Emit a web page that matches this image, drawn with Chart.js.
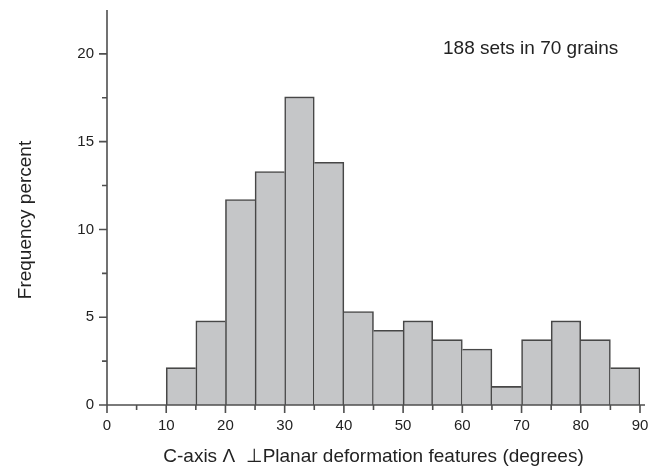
<!DOCTYPE html>
<html>
<head>
<meta charset="utf-8">
<script src="https://cdn.jsdelivr.net/npm/chart.js@4.4.0/dist/chart.umd.min.js"></script>
<style>
  html, body { margin: 0; padding: 0; background: #ffffff; }
  #wrap { position: relative; width: 658px; height: 467px; }
</style>
</head>
<body>
<div id="wrap"><canvas id="c" width="658" height="467"></canvas></div>
<script>
// ---- data ----
const BIN_STARTS = [10, 15, 20, 25, 30, 35, 40, 45, 50, 55, 60, 65, 70, 75, 80, 85];
const BIN_WIDTH = 5;
const FREQ_PERCENT = [2.13, 4.79, 11.70, 13.30, 17.55, 13.83, 5.32, 4.26, 4.79, 3.72, 3.19, 1.06, 3.72, 4.79, 3.72, 2.13];
const X_TICKS = [0, 10, 20, 30, 40, 50, 60, 70, 80, 90];
const X_MINOR = [5, 15, 25, 35, 45, 55, 65, 75, 85];
const Y_TICKS = [0, 5, 10, 15, 20];
const Y_MINOR = [2.5, 7.5, 12.5, 17.5];
const X_TITLE = 'C-axis \u039B  \u22A5Planar deformation features (degrees)';
const Y_TITLE = 'Frequency percent';
const NOTE = '188 sets in 70 grains';

const AXIS_COLOR = '#4f4f4f';
const TEXT_COLOR = '#222222';
const FONT = '"Liberation Sans", Arial, Helvetica, sans-serif';

const points = BIN_STARTS.map((s, i) => ({ x: s + BIN_WIDTH / 2, y: FREQ_PERCENT[i] }));

function sideWidths(ctx) {
  const i = ctx.dataIndex;
  const h = FREQ_PERCENT[i];
  const prev = i > 0 ? FREQ_PERCENT[i - 1] : -1;
  const next = i < FREQ_PERCENT.length - 1 ? FREQ_PERCENT[i + 1] : -1;
  const w = 1.6;
  return {
    top: w,
    bottom: 0,
    left: h >= prev ? w : 0,
    right: h > next ? w : 0
  };
}

const decor = {
  id: 'decor',
  afterDatasetsDraw(chart) {
    const { ctx, scales } = chart;
    const xs = scales.x, ys = scales.y;
    const x0 = xs.getPixelForValue(0);
    const xEnd = xs.getPixelForValue(90);
    const y0 = ys.getPixelForValue(0);
    const yTop = ys.getPixelForValue(22.5);
    ctx.save();
    ctx.strokeStyle = AXIS_COLOR;
    ctx.lineWidth = 1.6;
    ctx.beginPath();
    ctx.moveTo(x0, yTop);
    ctx.lineTo(x0, y0);
    ctx.moveTo(x0, y0);
    ctx.lineTo(xEnd + 5, y0);
    X_TICKS.forEach(v => { const p = xs.getPixelForValue(v); ctx.moveTo(p, y0); ctx.lineTo(p, y0 + 8); });
    X_MINOR.forEach(v => { const p = xs.getPixelForValue(v); ctx.moveTo(p, y0); ctx.lineTo(p, y0 + 5); });
    Y_TICKS.forEach(v => { const p = ys.getPixelForValue(v); ctx.moveTo(x0, p); ctx.lineTo(x0 - 8, p); });
    Y_MINOR.forEach(v => { const p = ys.getPixelForValue(v); ctx.moveTo(x0, p); ctx.lineTo(x0 - 5, p); });
    ctx.stroke();

    ctx.fillStyle = TEXT_COLOR;
    // x title
    ctx.font = '19px ' + FONT;
    ctx.textAlign = 'center';
    ctx.textBaseline = 'alphabetic';
    ctx.fillText(X_TITLE, (x0 + xEnd) / 2, 462);
    // y title
    ctx.save();
    ctx.translate(31, 220);
    ctx.rotate(-Math.PI / 2);
    ctx.fillText(Y_TITLE, 0, 0);
    ctx.restore();
    // note
    ctx.textAlign = 'left';
    ctx.fillText(NOTE, 443, 54);
    ctx.restore();
  }
};

new Chart(document.getElementById('c'), {
  type: 'bar',
  data: {
    datasets: [{
      data: points,
      backgroundColor: '#c5c6c8',
      borderColor: '#474747',
      borderWidth: sideWidths,
      borderSkipped: false,
      barPercentage: 1,
      categoryPercentage: 1
    }]
  },
  options: {
    responsive: false,
    animation: false,
    devicePixelRatio: 1,
    layout: { padding: { left: 0, right: 18, top: 10, bottom: 0 } },
    plugins: { legend: { display: false }, tooltip: { enabled: false } },
    scales: {
      x: {
        type: 'linear',
        min: 0,
        max: 90,
        offset: false,
        grid: { display: false, drawTicks: false },
        border: { display: false },
        afterBuildTicks: s => { s.ticks = X_TICKS.map(v => ({ value: v })); },
        afterFit: s => { s.height = 62; s.paddingLeft = 0; s.paddingRight = 0; },
        ticks: { color: TEXT_COLOR, font: { size: 15, family: FONT }, padding: 12, maxRotation: 0, autoSkip: false }
      },
      y: {
        min: 0,
        max: 22.5,
        grid: { display: false, drawTicks: false },
        border: { display: false },
        afterBuildTicks: s => { s.ticks = Y_TICKS.map(v => ({ value: v })); },
        afterFit: s => { s.width = 107; s.paddingTop = 0; s.paddingBottom = 0; },
        ticks: { color: TEXT_COLOR, font: { size: 15, family: FONT }, padding: 13 }
      }
    }
  },
  plugins: [decor]
});
</script>
</body>
</html>
